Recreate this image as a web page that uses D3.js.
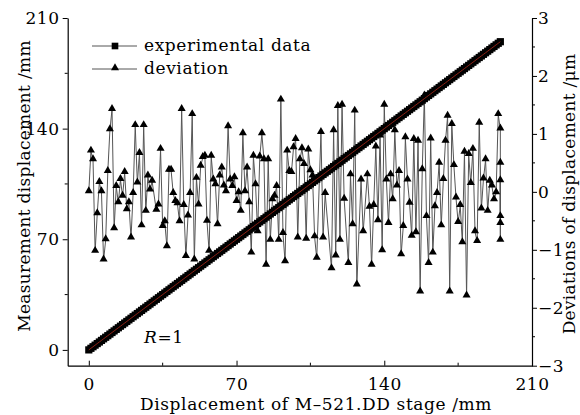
<!DOCTYPE html>
<html>
<head>
<meta charset="utf-8">
<script src="https://cdn.jsdelivr.net/npm/d3@7"></script>
<style>
  body { margin: 0; background: #fff; }
  svg text { font-family: "DejaVu Serif", serif; fill: #000; letter-spacing: 0.6px; }
</style>
</head>
<body>
<script>
// stage position (mm) and measured displacement (mm)
var stagePos = [
  0,1,2,3,4,5,6,7,8,9,10,11,12,13,14,15,16,17,18,19,20,21,22,23,24,25,26,27,28,29,
  30,31,32,33,34,35,36,37,38,39,40,41,42,43,44,45,46,47,48,49,50,51,52,53,54,55,56,57,58,59,
  60,61,62,63,64,65,66,67,68,69,70,71,72,73,74,75,76,77,78,79,80,81,82,83,84,85,86,87,88,89,
  90,91,92,93,94,95,96,97,98,99,100,101,102,103,104,105,106,107,108,109,110,111,112,113,114,
  115,116,117,118,119,120,121,122,123,124,125,126,127,128,129,130,131,132,133,134,135,136,137,
  138,139,140,141,142,143,144,145,146,147,148,149,150,151,152,153,154,155,156,157,158,159,160,
  161,162,163,164,165,166,167,168,169,170,171,172,173,174,175,176,177,178,179,180,181,182,183,
  184,185,186,187,188,189,190,191,192,193,194,195
];
var measured = [
  0,1,2,3,4,5,6,7,8,9,10,11,12,13,14,15,16,17,18,19,20,21,22,23,24,25,26,27,28,29,
  30,31,32,33,34,35,36,37,38,39,40,41,42,43,44,45,46,47,48,49,50,51,52,53,54,55,56,57,58,59,
  60,61,62,63,64,65,66,67,68,69,70,71,72,73,74,75,76,77,78,79,80,81,82,83,84,85,86,87,88,89,
  90,91,92,93,94,95,96,97,98,99,100,101,102,103,104,105,106,107,108,109,110,111,112,113,114,
  115,116,117,118,119,120,121,122,123,124,125,126,127,128,129,130,131,132,133,134,135,136,137,
  138,139,140,141,142,143,144,145,146,147,148,149,150,151,152,153,154,155,156,157,158,159,160,
  161,162,163,164,165,166,167,168,169,170,171,172,173,174,175,176,177,178,179,180,181,182,183,
  184,185,186,187,188,189,190,191,192,193,194,195
];

// deviation (um) at stage position
var devPos = [
  0,1,2,3,4,5,6,7,8,9,10,11,12,13,14,15,16,17,18,19,20,21,22,23,24,25,26,27,28,29,30,
  32,33,34,35,36,37,38,39,40,41,42,43,44,45,46,47,48,49,50,51,52,53,54,55,56,57,58,59,
  60,61,62,63,64,65,66,67,68,69,70,71,72,73,74,75,76,77,78,79,80,81,82,83,84,85,86,87,88,89,
  90,91,92,93,94,95,96,97,98,99,100,101,102,103,104,105,106,107,108,110,111,112,
  115,116,117,118,119,120,121,123,124,125,126,127,129,130,132,133,134,135,136,137,
  138,139,140,141,142,143,144,145,146,147,148,149,150,151,152,153,154,155,156,157,158,159,160,
  161,162,163,164,165,166,167,168,169,170,171,172,173,174,175,176,177,178,179,180,181,182,183,
  184,185,186,187,188,189,190,191,192,193,194,195,195,195,195,195,195
];
var devVal = [
  0.00,0.70,0.55,-1.03,-0.38,0.16,0.00,-1.18,-0.83,0.35,1.07,1.42,-0.64,0.09,-0.19,0.21,-0.08,0.33,-0.31,-0.19,-0.80,-0.03,1.14,0.15,0.66,-0.59,1.14,-0.34,0.27,0.03,0.18,
  -0.32,-0.23,0.73,-0.60,-0.52,-0.95,0.37,0.37,-0.03,-0.17,-0.21,-0.52,1.42,-0.24,-1.12,-0.42,-0.03,1.33,-1.18,0.23,-0.23,0.44,0.59,0.61,-0.51,-1.03,0.61,0.20,
  0.12,-0.57,0.27,0.41,0.10,0.00,1.12,0.20,0.09,0.24,-0.17,-0.02,-0.34,1.00,0.00,0.41,-0.19,-1.06,0.61,0.12,-0.69,0.60,1.00,0.55,-1.27,0.55,-0.84,-0.14,-0.08,0.09,
  -0.84,1.58,-0.72,-1.21,0.70,0.35,0.33,0.76,0.90,-0.80,0.55,0.74,0.47,-0.82,0.72,0.36,0.27,-0.78,-1.15,1.02,-0.80,-0.03,
  -1.33,1.05,-1.11,1.47,-0.84,1.49,-0.13,-1.24,0.29,-0.57,1.39,-1.61,0.20,-0.69,0.29,-0.27,-1.27,-0.24,0.77,-0.50,
  0.96,-1.02,1.49,0.20,-0.55,0.29,-0.14,1.05,0.10,0.35,-1.09,-0.60,0.93,0.20,-0.20,-0.77,0.90,-0.71,0.87,-1.73,0.38,1.65,-0.43,
  -1.24,0.91,-1.06,-0.26,-0.03,0.49,-0.59,0.21,0.87,1.30,-1.73,1.16,0.45,-0.11,-0.53,-0.24,-0.88,0.68,-1.80,0.64,0.14,0.73,-0.69,
  -0.86,1.18,-0.30,0.22,0.55,-0.34,0.18,0.10,-0.14,-0.02,1.33,1.08,-0.84,0.49,-0.43,0.19,-0.55
];

var xTicks = [0, 70, 140, 210];
var yTicks = [0, 70, 140, 210];
var yRTicks = [-3, -2, -1, 0, 1, 2, 3];
var seriesNames = ["experimental data", "deviation"];

var width = 580, height = 415;
var mLeft = 67.7, mRight = 532, mTop = 18, mBottom = 365.7;

var svg = d3.select("body").append("svg")
    .attr("width", width)
    .attr("height", height);

var x = d3.scaleLinear().domain([-10, 210]).range([mLeft, mRight]);
var y = d3.scaleLinear().domain([-10, 210]).range([mBottom, mTop]);
var yR = d3.scaleLinear().domain([-3, 3]).range([mBottom, mTop]);

var fmt = function(d) { return d < 0 ? "\u2212" + Math.abs(d) : d; };

// bottom axis, ticks inward
var xAxis = d3.axisBottom(x).tickValues(xTicks).tickSizeInner(-5).tickSizeOuter(0).tickPadding(12).tickFormat(fmt);
var gx = svg.append("g").attr("transform", "translate(0," + mBottom + ")").call(xAxis);
gx.selectAll("line.minor").data([35, 105, 175]).enter().append("line")
    .attr("class", "minor")
    .attr("x1", function(d) { return x(d); }).attr("x2", function(d) { return x(d); })
    .attr("y1", 0).attr("y2", -3).attr("stroke", "#000");

// left axis, ticks outward
var yAxis = d3.axisLeft(y).tickValues(yTicks).tickSizeInner(5).tickSizeOuter(0).tickPadding(3).tickFormat(fmt);
var gy = svg.append("g").attr("transform", "translate(" + mLeft + ",0)").call(yAxis);
gy.selectAll("line.minor").data([35, 105, 175]).enter().append("line")
    .attr("class", "minor")
    .attr("y1", function(d) { return y(d); }).attr("y2", function(d) { return y(d); })
    .attr("x1", 0).attr("x2", -3).attr("stroke", "#000");

// right axis, ticks outward
var yRAxis = d3.axisRight(yR).tickValues(yRTicks).tickSizeInner(5).tickSizeOuter(0).tickPadding(1).tickFormat(fmt);
var gyr = svg.append("g").attr("transform", "translate(" + mRight + ",0)").call(yRAxis);
gyr.selectAll("line.minor").data([-2.5, -1.5, -0.5, 0.5, 1.5, 2.5]).enter().append("line")
    .attr("class", "minor")
    .attr("y1", function(d) { return yR(d); }).attr("y2", function(d) { return yR(d); })
    .attr("x1", 0).attr("x2", 3).attr("stroke", "#000");

svg.selectAll(".domain").attr("stroke", "#000").attr("stroke-width", 1.2);
svg.selectAll(".tick line").attr("stroke", "#000");
svg.selectAll(".tick text").style("font-size", "17px").style("font-family", "DejaVu Serif, serif");

// axis titles
svg.append("text")
    .attr("x", 316).attr("y", 410)
    .attr("text-anchor", "middle")
    .style("font-size", "17px")
    .text("Displacement of M\u2013521.DD stage /mm");

svg.append("text")
    .attr("transform", "translate(30,186) rotate(-90)")
    .attr("text-anchor", "middle")
    .style("font-size", "17px")
    .style("letter-spacing", "0.3px")
    .text("Measurement displacement /mm");

svg.append("text")
    .attr("transform", "translate(575,194) rotate(-90)")
    .attr("text-anchor", "middle")
    .style("font-size", "17px")
    .style("letter-spacing", "0.3px")
    .text("Deviations of displacement /\u03bcm");

// deviation series
var devData = devPos.map(function(p, i) { return { x: p, v: devVal[i] }; });

var devLine = d3.line()
    .x(function(d) { return x(d.x); })
    .y(function(d) { return yR(d.v); });

svg.append("path")
    .datum(devData)
    .attr("d", devLine)
    .attr("fill", "none")
    .attr("stroke", "#555")
    .attr("stroke-width", 1);

var tri = d3.symbol().type(d3.symbolTriangle).size(28);
svg.selectAll(".tri")
    .data(devData)
    .enter().append("path")
    .attr("class", "tri")
    .attr("d", tri)
    .attr("transform", function(d) { return "translate(" + x(d.x) + "," + (yR(d.v) - 1) + ")"; })
    .attr("fill", "#000");

// experimental series
var expData = stagePos.map(function(p, i) { return { x: p, v: measured[i] }; });

var sq = d3.symbol().type(d3.symbolSquare).size(52);
svg.selectAll(".sq")
    .data(expData)
    .enter().append("path")
    .attr("class", "sq")
    .attr("d", sq)
    .attr("transform", function(d) { return "translate(" + x(d.x) + "," + y(d.v) + ")"; })
    .attr("fill", "#000");

var expLine = d3.line()
    .x(function(d) { return x(d.x); })
    .y(function(d) { return y(d.v); });

svg.append("path")
    .datum(expData)
    .attr("d", expLine)
    .attr("fill", "none")
    .attr("stroke", "#b02a1a")
    .attr("stroke-width", 0.8);

// legend
var legend = svg.append("g");
var legY = [46, 69];
legend.selectAll("line")
    .data(seriesNames).enter().append("line")
    .attr("x1", 92).attr("x2", 137)
    .attr("y1", function(d, i) { return legY[i]; })
    .attr("y2", function(d, i) { return legY[i]; })
    .attr("stroke", "#555").attr("stroke-width", 1);
legend.append("path").attr("d", d3.symbol().type(d3.symbolSquare).size(44)).attr("transform", "translate(115," + legY[0] + ")");
legend.append("path").attr("d", tri).attr("transform", "translate(115," + (legY[1] - 1) + ")");
legend.selectAll("text")
    .data(seriesNames).enter().append("text")
    .attr("x", 144)
    .attr("y", function(d, i) { return legY[i] + 5; })
    .style("font-size", "17px")
    .text(function(d) { return d; });

// correlation note
var note = svg.append("text").attr("x", 144).attr("y", 343).style("font-size", "17px");
note.append("tspan").style("font-style", "italic").text("R");
note.append("tspan").text("=1");
</script>
</body>
</html>
